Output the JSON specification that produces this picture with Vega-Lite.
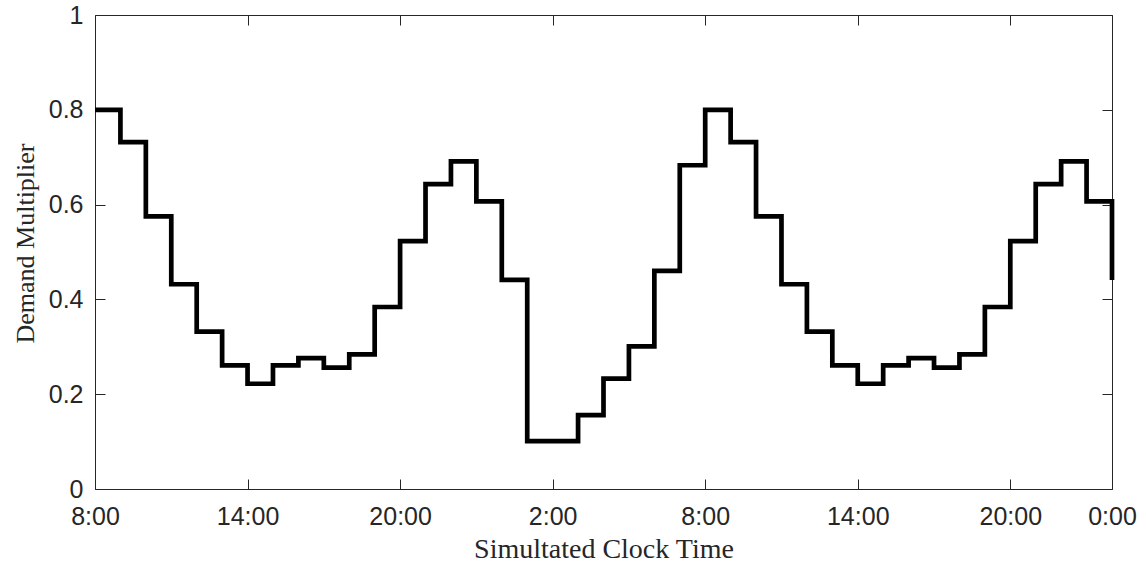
{
  "$schema": "https://vega.github.io/schema/vega-lite/v6.json",
  "width": 1017,
  "height": 474,
  "autosize": {"type": "none"},
  "padding": {"left": 95, "top": 15, "right": 34, "bottom": 73},
  "background": "white",
  "config": {
    "view": {"stroke": null},
    "axis": {
      "domainColor": "#262626",
      "domainWidth": 1,
      "tickColor": "#262626",
      "tickWidth": 1,
      "tickSize": -10,
      "grid": false,
      "labelColor": "#262626",
      "labelFont": "Liberation Sans",
      "labelFontSize": 25,
      "labelFlush": false,
      "labelOverlap": false,
      "titleColor": "#262626",
      "titleFont": "Liberation Serif",
      "titleFontWeight": "normal",
      "titleFontSize": 27
    }
  },
  "data": {
    "values": [
      {"h": 0, "v": 0.8}, {"h": 1, "v": 0.732}, {"h": 2, "v": 0.575}, {"h": 3, "v": 0.432},
      {"h": 4, "v": 0.332}, {"h": 5, "v": 0.261}, {"h": 6, "v": 0.222}, {"h": 7, "v": 0.261},
      {"h": 8, "v": 0.276}, {"h": 9, "v": 0.256}, {"h": 10, "v": 0.284}, {"h": 11, "v": 0.384},
      {"h": 12, "v": 0.523}, {"h": 13, "v": 0.643}, {"h": 14, "v": 0.691}, {"h": 15, "v": 0.607},
      {"h": 16, "v": 0.441}, {"h": 17, "v": 0.101}, {"h": 18, "v": 0.101}, {"h": 19, "v": 0.156},
      {"h": 20, "v": 0.233}, {"h": 21, "v": 0.301}, {"h": 22, "v": 0.46}, {"h": 23, "v": 0.683},
      {"h": 24, "v": 0.8}, {"h": 25, "v": 0.732}, {"h": 26, "v": 0.575}, {"h": 27, "v": 0.432},
      {"h": 28, "v": 0.332}, {"h": 29, "v": 0.261}, {"h": 30, "v": 0.222}, {"h": 31, "v": 0.261},
      {"h": 32, "v": 0.276}, {"h": 33, "v": 0.256}, {"h": 34, "v": 0.284}, {"h": 35, "v": 0.384},
      {"h": 36, "v": 0.523}, {"h": 37, "v": 0.643}, {"h": 38, "v": 0.691}, {"h": 39, "v": 0.607},
      {"h": 40, "v": 0.441}
    ]
  },
  "layer": [
    {
      "mark": {"type": "line", "interpolate": "step-after", "color": "black", "strokeWidth": 4.7, "strokeJoin": "miter", "strokeCap": "butt"},
      "encoding": {
        "x": {
          "field": "h", "type": "quantitative",
          "scale": {"domain": [0, 40], "nice": false, "zero": false},
          "axis": {
            "orient": "bottom",
            "values": [0, 6, 12, 18, 24, 30, 36, 40],
            "labelExpr": "((datum.value + 8) % 24) + ':00'",
            "labelPadding": 25,
            "title": "Simultated Clock Time",
            "titleFontSize": 28,
            "titleBaseline": "alphabetic",
            "titleY": 68
          }
        },
        "y": {
          "field": "v", "type": "quantitative",
          "scale": {"domain": [0, 1], "nice": false},
          "axis": {
            "orient": "left",
            "values": [0, 0.2, 0.4, 0.6, 0.8, 1],
            "format": "~g",
            "labelPadding": 22,
            "title": "Demand Multiplier",
            "titleFontSize": 26,
            "titleBaseline": "alphabetic",
            "titleAlign": "center",
            "titleAngle": -90,
            "titleX": -62,
            "titleY": 228
          }
        }
      }
    },
    {
      "mark": {"type": "line", "opacity": 0},
      "encoding": {
        "x": {
          "field": "h", "type": "quantitative",
          "scale": {"domain": [0, 40], "nice": false, "zero": false},
          "axis": {"orient": "top", "values": [0, 6, 12, 18, 24, 30, 36, 40], "labels": false, "title": null}
        },
        "y": {
          "field": "v", "type": "quantitative",
          "scale": {"domain": [0, 1], "nice": false},
          "axis": {"orient": "right", "values": [0, 0.2, 0.4, 0.6, 0.8, 1], "labels": false, "title": null}
        }
      }
    }
  ],
  "resolve": {"scale": {"x": "independent", "y": "independent"}, "axis": {"x": "independent", "y": "independent"}}
}
